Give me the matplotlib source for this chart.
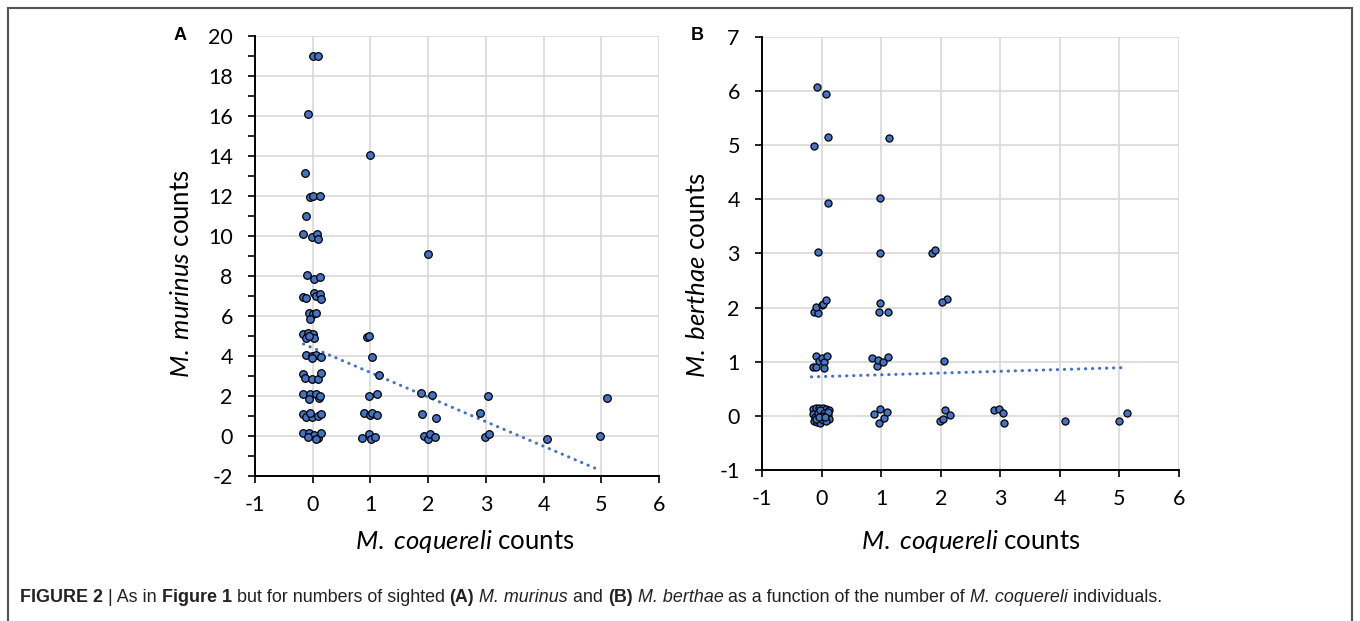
import numpy as np
import matplotlib
matplotlib.use('Agg')
import matplotlib.pyplot as plt
from matplotlib.patches import Rectangle

plt.rcParams['font.family'] = ['Lato', 'DejaVu Sans']
plt.rcParams['mathtext.fontset'] = 'custom'
plt.rcParams['mathtext.rm'] = 'Lato'
plt.rcParams['mathtext.it'] = 'Lato:italic'
plt.rcParams['mathtext.bf'] = 'Lato:bold'
plt.rcParams['axes.unicode_minus'] = False

# Panel A: M. coquereli (jittered) vs M. murinus (jittered)
a_x = [0.0, 0.1, -0.08, 0.99, -0.14, -0.05, 0.0, 0.12, -0.12, -0.16, -0.02, 0.07, 0.09,
       -0.1, 0.02, 0.13,
       -0.16, -0.11, 0.02, 0.06, 0.13, 0.14,
       -0.07, 0.0, 0.06, -0.05,
       -0.16, -0.09, 0.0, -0.12, 0.02, -0.07,
       -0.11, -0.02, 0.06, 0.14, -0.02,
       -0.16, -0.13, -0.02, 0.09, 0.14,
       -0.16, -0.05, 0.06, 0.11, -0.07, 0.12,
       -0.16, -0.11, -0.02, 0.09, 0.14, -0.05,
       -0.16, -0.07, 0.02, 0.09, 0.15, 0.06, -0.08,
       0.94, 0.98, 1.03, 1.14, 0.98, 1.11, 0.88, 0.99, 1.03, 1.11, 0.85, 0.97, 1.01, 1.08,
       2.0, 1.87, 2.07, 1.9, 2.14, 1.92, 1.99, 2.04, 2.12,
       2.89, 3.04, 2.98, 3.06,
       4.06,
       4.97, 5.1]
a_y = [19.0, 19.0, 16.1, 14.05, 13.15, 11.95, 12.0, 12.0, 10.98, 10.08, 9.97, 10.08, 9.87,
       8.07, 7.85, 7.93,
       6.97, 6.9, 7.13, 7.0, 7.1, 6.87,
       6.13, 6.1, 6.17, 5.87,
       5.1, 5.13, 5.1, 4.9, 4.9, 5.0,
       4.03, 4.02, 4.03, 3.97, 3.9,
       3.08, 2.9, 2.87, 2.87, 3.13,
       2.08, 2.1, 2.1, 1.9, 1.87, 2.0,
       1.08, 0.97, 0.97, 1.02, 1.1, 1.13,
       0.13, 0.17, 0.05, -0.08, 0.13, -0.17, -0.03,
       4.95, 4.98, 3.93, 3.05, 1.98, 2.12, 1.15, 1.03, 1.13, 1.03, -0.08, 0.1, -0.17, -0.05,
       9.12, 2.15, 2.07, 1.12, 0.92, -0.02, -0.15, 0.1, -0.03,
       1.13, 2.02, -0.03, 0.1,
       -0.13,
       0.0, 1.88]
a_trend_x = [-0.16, 4.99]
a_trend_y = [4.6, -1.73]

# Panel B: M. coquereli (jittered) vs M. berthae (jittered)
b_x = [-0.07, 0.08, 0.1, -0.12, 1.13, 0.11, 0.98, -0.06, 0.98,
       1.86, 1.91, 2.1, 2.02,
       -0.13, -0.06, -0.09, 0.0, 0.03, 0.08,
       0.98, 0.96, 1.11,
       -0.14, -0.1, -0.09, -0.05, 0.0, 0.04, 0.04, 0.09,
       0.85, 0.93, 0.95, 1.03, 1.11,
       2.05,
       -0.14, -0.1, -0.05, 0.02, 0.08, 0.12, -0.15, -0.11, -0.06, -0.02, 0.04, 0.1,
       0.13, -0.13, -0.08, -0.03, 0.02, 0.07, -0.1, 0.0, 0.11, -0.04, 0.06,
       0.88, 0.96, 0.98, 1.04, 1.09,
       1.99, 2.04, 2.08, 2.15,
       2.9, 2.98, 3.05, 3.06,
       4.08,
       4.99, 5.12]
b_y = [6.07, 5.95, 5.16, 4.98, 5.14, 3.94, 4.02, 3.03, 3.0,
       3.0, 3.06, 2.16, 2.11,
       1.92, 1.9, 2.02, 2.04, 2.06, 2.14,
       2.08, 1.91, 1.91,
       0.9, 1.1, 0.9, 1.02, 1.07, 1.0, 0.88, 1.1,
       1.06, 0.92, 1.03, 1.0, 1.08,
       1.02,
       0.12, 0.14, 0.15, 0.14, 0.13, 0.1, 0.03, -0.02, 0.06, 0.1, 0.05, 0.02,
       -0.05, -0.1, -0.12, -0.13, -0.08, -0.1, -0.06, 0.0, 0.07, -0.03, -0.02,
       0.04, -0.13, 0.12, -0.04, 0.07,
       -0.09, -0.06, 0.11, 0.02,
       0.1, 0.13, 0.06, -0.14,
       -0.1,
       -0.09, 0.06]
b_trend_x = [-0.17, 5.05]
b_trend_y = [0.72, 0.89]

blue = '#4472C4'
grid_c = '#d9d9d9'

fig = plt.figure(figsize=(13.6, 6.21), dpi=100)

# outer frame
fig.add_artist(Rectangle((8 / 1360, -0.01), 1344 / 1360, 1 - 8 / 621 + 0.01,
                         transform=fig.transFigure, fill=False,
                         edgecolor='#555555', linewidth=1.5))

axA = fig.add_axes([0.1875, 0.2335, 0.2971, 0.7085])
axB = fig.add_axes([0.5603, 0.2432, 0.3066, 0.6973])


def style(ax):
    for s in ['top', 'right']:
        ax.spines[s].set_visible(False)
    for s in ['left', 'bottom']:
        ax.spines[s].set_linewidth(1.4)
    ax.grid(True, color=grid_c, linewidth=1.2, zorder=0)
    ax.set_axisbelow(True)
    ax.tick_params(axis='y', which='both', direction='out', length=5, width=1.2,
                   pad=11, labelsize=15.5)
    ax.tick_params(axis='x', which='both', direction='out', length=5, width=1.2,
                   pad=9, labelsize=15.5)


# Panel A
style(axA)
axA.plot(a_trend_x, a_trend_y, color=blue, linewidth=2.2,
         linestyle=(0, (0.1, 2.2)), dash_capstyle='round', zorder=2)
axA.scatter(a_x, a_y, s=30, color=blue, edgecolors='black', linewidths=0.9, zorder=3)
axA.set_xlim(-1, 6)
axA.set_ylim(-2, 20)
axA.set_xticks(range(-1, 7))
axA.set_yticks(range(-2, 21, 2))
axA.set_yticks(range(-1, 20, 2), minor=True)
axA.set_xlabel(r'$\it{M.}$ $\it{coquereli}$ counts', fontsize=18.5)
axA.set_ylabel(r'$\it{M.}$ $\it{murinus}$ counts', fontsize=18.5)
axA.xaxis.set_label_coords(0.52, -0.118)
axA.yaxis.set_label_coords(-0.152, 0.46)
fig.text(180 / 1360, 1 - 35 / 621, 'A', fontsize=13, fontweight='bold',
         family=['Liberation Sans', 'DejaVu Sans'], ha='center', va='center')

# Panel B
style(axB)
axB.plot(b_trend_x, b_trend_y, color=blue, linewidth=2.2,
         linestyle=(0, (0.1, 2.2)), dash_capstyle='round', zorder=2)
axB.scatter(b_x, b_y, s=26, color=blue, edgecolors='black', linewidths=0.9, zorder=3)
axB.set_xlim(-1, 6)
axB.set_ylim(-1, 7)
axB.set_xticks(range(-1, 7))
axB.set_yticks(range(-1, 8))
axB.set_xlabel(r'$\it{M.}$ $\it{coquereli}$ counts', fontsize=18.5)
axB.set_ylabel(r'$\it{M.}$ $\it{berthae}$ counts', fontsize=18.5)
axB.xaxis.set_label_coords(0.5, -0.133)
axB.yaxis.set_label_coords(-0.125, 0.45)
fig.text(697 / 1360, 1 - 35 / 621, 'B', fontsize=13, fontweight='bold',
         family=['Liberation Sans', 'DejaVu Sans'], ha='center', va='center')

# Caption with mixed styles
pieces = [("FIGURE 2", 'bold', 'normal'), (" | As in ", 'normal', 'normal'),
          ("Figure 1", 'bold', 'normal'),
          (" but for numbers of sighted ", 'normal', 'normal'),
          ("(A)", 'bold', 'normal'), (" ", 'normal', 'normal'),
          ("M. murinus", 'normal', 'italic'), (" and ", 'normal', 'normal'),
          ("(B)", 'bold', 'normal'), (" ", 'normal', 'normal'),
          ("M. berthae", 'normal', 'italic'),
          (" as a function of the number of ", 'normal', 'normal'),
          ("M. coquereli", 'normal', 'italic'), (" individuals.", 'normal', 'normal')]
renderer = fig.canvas.get_renderer()
x0 = 20
cap_y = 1 - 597 / 621
target_w = 1143
fs = 10.0
for attempt in range(2):
    texts = []
    x = x0
    for s, w, st in pieces:
        t = fig.text(x / 1360, cap_y, s, fontsize=fs, fontweight=w, fontstyle=st,
                     family=['Liberation Sans', 'DejaVu Sans'],
                     va='center', ha='left', color='#222222')
        bb = t.get_window_extent(renderer)
        x += bb.width
        texts.append(t)
    total = x - x0
    if attempt == 0:
        for t in texts:
            t.remove()
        fs = fs * target_w / total

fig.savefig('out.png', dpi=100)
